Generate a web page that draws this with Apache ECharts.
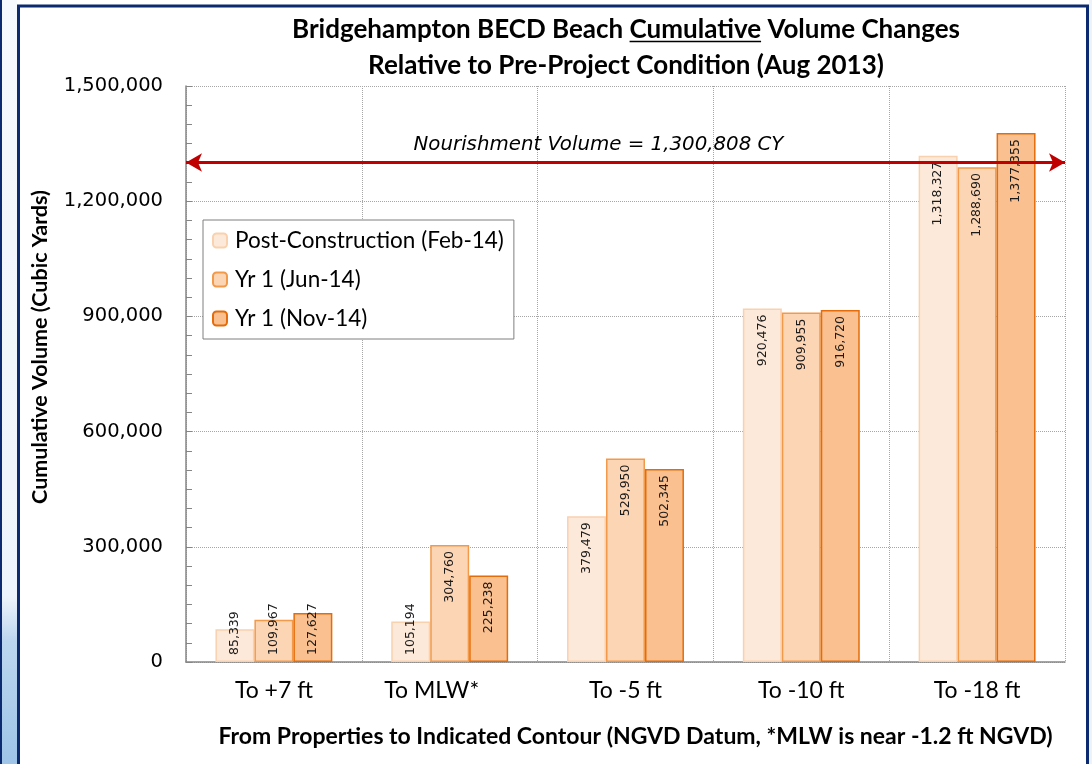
<!DOCTYPE html>
<html><head><meta charset="utf-8">
<script src="https://cdn.jsdelivr.net/npm/echarts@6/dist/echarts.min.js"></script>
<style>html,body{margin:0;padding:0;background:#fff}#c{width:1092px;height:764px}</style>
</head><body><div id="c"></div>
<script>
// ---- data ----
const categories = ['To +7 ft', 'To MLW*', 'To -5 ft', 'To -10 ft', 'To -18 ft'];
const seriesNames = ['Post-Construction (Feb-14)', 'Yr 1 (Jun-14)', 'Yr 1 (Nov-14)'];
const postConstruction = [85339, 105194, 379479, 920476, 1318327];
const yr1Jun = [109967, 304760, 529950, 909955, 1288690];
const yr1Nov = [127627, 225238, 502345, 916720, 1377355];
const nourishmentVolume = 1300808;
const yMin = 0, yMax = 1500000, yStep = 300000;

const titleLine1 = 'Bridgehampton BECD Beach Cumulative Volume Changes';
const titleLine2 = 'Relative to Pre-Project Condition (Aug 2013)';
const underlinedWord = 'Cumulative';
const yName = 'Cumulative Volume (Cubic Yards)';
const xName = 'From Properties to Indicated Contour (NGVD Datum, *MLW is near -1.2 ft NGVD)';
const nourishLabel = 'Nourishment Volume = 1,300,808 CY';

// ---- style ----
const CAL = 'Lato, "Open Sans", sans-serif';
const VER = '"DejaVu Sans", Verdana, sans-serif';
const TITLE_SIZE = 26;
const TITLE_X = 626;
const fmt = v => Number(v).toLocaleString('en-US');

const LABEL_SWITCH = 190000;
function mkData(arr) {
  return arr.map(v => v < LABEL_SWITCH
    ? { value: v, label: { position: 'insideBottom', align: 'left', distance: 7 } }
    : v);
}
const barLabel = {
  show: true, rotate: 90, position: 'insideTop', align: 'right', verticalAlign: 'middle',
  distance: 6, fontFamily: VER, fontSize: 12.5, color: '#1a1a1a',
  formatter: p => fmt(p.value)
};

// underline measurement (same font string as the title)
const TITLE_FONT = 'bold ' + TITLE_SIZE + 'px ' + CAL;
const mctx = document.createElement('canvas').getContext('2d');
mctx.font = TITLE_FONT;
const wFull = mctx.measureText(titleLine1).width;
const wPre = mctx.measureText(titleLine1.slice(0, titleLine1.indexOf(underlinedWord))).width;
const wU = mctx.measureText(underlinedWord).width;
const ux0 = TITLE_X - wFull / 2 + wPre;

const chart = echarts.init(document.getElementById('c'), null, { renderer: 'canvas' });
chart.setOption({
  backgroundColor: '#ffffff',
  animation: false,
  title: {
    text: titleLine1 + '\n' + titleLine2,
    left: TITLE_X, top: 12, textAlign: 'center', padding: 0,
    textStyle: { fontFamily: CAL, fontWeight: 'bold', fontSize: TITLE_SIZE, lineHeight: 36, color: '#000' }
  },
  graphic: [
    { type: 'rect', z: -10, shape: { x: 0, y: 0, width: 17, height: 764 },
      style: { fill: new echarts.graphic.LinearGradient(0, 0, 0, 1, [
        { offset: 0, color: '#F6F9FD' }, { offset: 0.78, color: '#EEF4FB' },
        { offset: 0.84, color: '#BCD6EF' }, { offset: 1, color: '#9EC4E7' }]) } },
    { type: 'rect', z: -9, shape: { x: 0, y: 0, width: 2, height: 764 }, style: { fill: '#0B2A6F' } },
    { type: 'rect', z: -10, shape: { x: 1089, y: 0, width: 3, height: 764 }, style: { fill: '#EEF3FA' } },
    { type: 'rect', z: 100, shape: { x: 18.5, y: 6, width: 1069, height: 800 },
      style: { fill: 'none', stroke: '#0B2A6F', lineWidth: 3 } },
    { type: 'line', z: 100, shape: { x1: ux0, y1: 41.5, x2: ux0 + wU, y2: 41.5 },
      style: { stroke: '#000', lineWidth: 1.5 } }
  ],
  grid: { left: 186, right: 27, top: 86, bottom: 102, containLabel: false },
  legend: {
    data: seriesNames, orient: 'vertical', left: 203, top: 220,
    padding: [9, 10, 9, 9], itemGap: 16, itemWidth: 14, itemHeight: 14,
    backgroundColor: '#ffffff', borderColor: '#7F7F7F', borderWidth: 1,
    textStyle: { fontFamily: CAL, fontSize: 22.5, color: '#000', padding: [0, 0, 0, 3] }
  },
  xAxis: {
    type: 'category', data: categories,
    axisLine: { lineStyle: { color: '#868686', width: 1.5 } },
    axisTick: { show: true, alignWithLabel: true, inside: true, length: 5, lineStyle: { color: '#868686' } },
    axisLabel: {
      fontFamily: CAL, fontSize: 23, color: '#000', margin: 17,
      formatter: (v, i) => i === 1 ? '{m|' + v + '}' : v,
      rich: { m: { fontFamily: CAL, fontSize: 23, color: '#000', padding: [0, 36, 0, 0] } }
    },
    splitLine: { show: true, lineStyle: { color: '#A6A6A6', type: 'dotted' } },
    name: xName, nameLocation: 'middle', nameGap: 63,
    nameTextStyle: { fontFamily: CAL, fontWeight: 'bold', fontSize: 23, color: '#000', padding: [0, 0, 0, 20] }
  },
  yAxis: {
    type: 'value', min: yMin, max: yMax, interval: yStep,
    axisLine: { show: true, lineStyle: { color: '#868686', width: 1.5 } },
    axisTick: { show: true, inside: true, length: 6, lineStyle: { color: '#868686' } },
    minorTick: { show: true, splitNumber: 6, length: 6, lineStyle: { color: '#868686' } },
    axisLabel: { fontFamily: VER, fontSize: 19.5, color: '#000', margin: 23, formatter: v => fmt(v) },
    splitLine: { show: true, lineStyle: { color: '#A6A6A6', type: 'dotted' } },
    name: yName, nameLocation: 'middle', nameGap: 135,
    nameTextStyle: { fontFamily: CAL, fontWeight: 'bold', fontSize: 21.5, color: '#000', padding: [0, 0, 0, 54] }
  },
  series: [
    { name: seriesNames[0], type: 'bar', data: mkData(postConstruction),
      barGap: '0%', barCategoryGap: '33.5%',
      itemStyle: { color: '#FDE9D9', borderColor: '#FAD1AE', borderWidth: 1.5 }, label: barLabel },
    { name: seriesNames[1], type: 'bar', data: mkData(yr1Jun),
      barGap: '0%', barCategoryGap: '33.5%',
      itemStyle: { color: '#FCD5B5', borderColor: '#F2994A', borderWidth: 1.5 }, label: barLabel },
    { name: seriesNames[2], type: 'bar', data: mkData(yr1Nov),
      barGap: '0%', barCategoryGap: '33.5%',
      itemStyle: { color: '#FAC090', borderColor: '#E46C0A', borderWidth: 1.5 }, label: barLabel,
      markLine: {
        silent: true, symbol: ['arrow', 'arrow'], symbolSize: [14, 16],
        lineStyle: { color: '#C00000', width: 3, type: 'solid' },
        label: { show: true, position: 'insideMiddleTop', distance: 8, formatter: nourishLabel,
          fontFamily: VER, fontStyle: 'italic', fontSize: 19.8, color: '#000', padding: [0, 54, 0, 0] },
        data: [{ yAxis: nourishmentVolume }]
      } }
  ]
});
</script></body></html>
